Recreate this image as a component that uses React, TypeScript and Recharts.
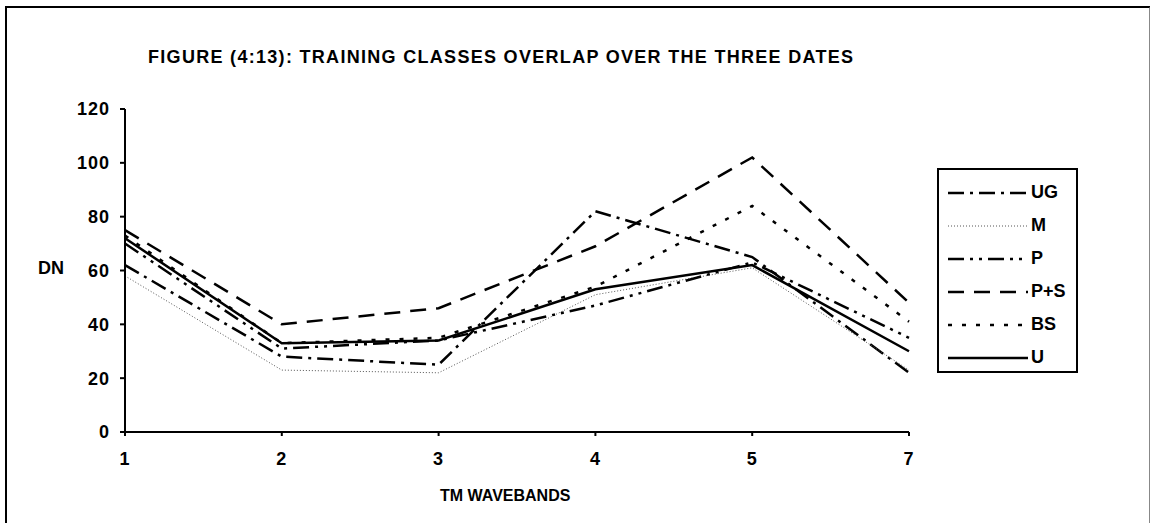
import React from 'react';
import { LineChart, Line, XAxis, YAxis, Legend } from 'recharts';

// TM bands on the x axis
const bands = ['1', '2', '3', '4', '5', '7'];

// DN values per training class
const ug = [62, 28, 25, 82, 65, 22];
const m = [58, 23, 22, 51, 61, 23];
const p = [70, 31, 34, 47, 63, 35];
const ps = [75, 40, 46, 69, 102, 48];
const bs = [73, 33, 35, 54, 84, 41];
const u = [72, 33, 34, 53, 62, 30];

const seriesOrder = ['UG', 'M', 'P', 'P+S', 'BS', 'U'];
const yTicks = [0, 20, 40, 60, 80, 100, 120];

const data = bands.map((b, i) => ({
  band: b,
  UG: ug[i],
  M: m[i],
  P: p[i],
  'P+S': ps[i],
  BS: bs[i],
  U: u[i],
}));

const FONT = '"Liberation Sans", Arial, sans-serif';

const LegendBox = (props: any) => {
  const { payload } = props;
  return (
    <div
      style={{
        border: '2px solid #000',
        width: 137,
        height: 201,
        boxSizing: 'content-box',
        background: '#fff',
        fontFamily: FONT,
        fontWeight: 'bold',
        fontSize: 18,
      }}
    >
      {(payload || []).map((e: any, i: number) => (
        <div key={i} style={{ display: 'flex', alignItems: 'center', height: 33, marginTop: i === 0 ? 6 : 0 }}>
          <svg width={92} height={12} style={{ marginLeft: 9 }}>
            <line
              x1={0}
              y1={6}
              x2={80}
              y2={6}
              stroke={e.payload?.stroke || '#000'}
              strokeWidth={e.payload?.strokeWidth || 2}
              strokeDasharray={e.payload?.strokeDasharray}
            />
          </svg>
          <span style={{ marginLeft: -9 }}>{e.value}</span>
        </div>
      ))}
    </div>
  );
};

const tickStyle = { fill: '#000', fontFamily: FONT, fontWeight: 'bold', fontSize: 18, letterSpacing: 1 };

export default function App() {
  return (
    <div
      style={{
        position: 'absolute',
        left: 5,
        top: 6,
        width: 1142,
        height: 520,
        borderLeft: '2px solid #000',
        borderTop: '2px solid #000',
        borderRight: '2px solid #888',
        background: '#fff',
      }}
    >
      <div
        style={{
          position: 'absolute',
          left: 141,
          top: 39,
          fontFamily: FONT,
          fontWeight: 'bold',
          fontSize: 18,
          letterSpacing: 1.3,
          whiteSpace: 'nowrap',
        }}
      >
        FIGURE (4:13): TRAINING CLASSES OVERLAP OVER THE THREE DATES
      </div>
      <div
        style={{
          position: 'absolute',
          left: 31,
          top: 250,
          fontFamily: FONT,
          fontWeight: 'bold',
          fontSize: 18,
        }}
      >
        DN
      </div>
      <div
        style={{
          position: 'absolute',
          left: 433,
          top: 479,
          fontFamily: FONT,
          fontWeight: 'bold',
          fontSize: 16,
        }}
      >
        TM WAVEBANDS
      </div>
      <LineChart
        width={1140}
        height={518}
        data={data}
        margin={{ top: 101, right: 238, left: 58, bottom: 66 }}
        style={{ position: 'absolute', left: 0, top: 0 }}
      >
        <XAxis
          dataKey="band"
          stroke="#000"
          strokeWidth={2}
          tickSize={4}
          height={28}
          tick={tickStyle}
          tickMargin={16}
        />
        <YAxis
          domain={[0, 120]}
          ticks={yTicks}
          width={60}
          stroke="#000"
          strokeWidth={2}
          tickSize={5}
          tickMargin={10}
          tick={tickStyle}
        />
        <Legend
          layout="vertical"
          verticalAlign="middle"
          align="center"
          itemSorter={(item: any) => seriesOrder.indexOf(item.value)}
          content={<LegendBox />}
          wrapperStyle={{ position: 'absolute', left: 930, top: 160, width: 141 }}
        />
        <Line dataKey="UG" stroke="#000" strokeWidth={2.5} strokeDasharray="16 6 3 6" dot={false} isAnimationActive={false} />
        <Line dataKey="M" stroke="#555" strokeWidth={1} strokeDasharray="1 2" dot={false} isAnimationActive={false} />
        <Line dataKey="P" stroke="#000" strokeWidth={2.5} strokeDasharray="16 6 3 6 3 6" dot={false} isAnimationActive={false} />
        <Line dataKey="P+S" stroke="#000" strokeWidth={2.5} strokeDasharray="16 10" dot={false} isAnimationActive={false} />
        <Line dataKey="BS" stroke="#000" strokeWidth={2.5} strokeDasharray="4 10" dot={false} isAnimationActive={false} />
        <Line dataKey="U" stroke="#000" strokeWidth={2.5} dot={false} isAnimationActive={false} />
      </LineChart>
    </div>
  );
}
